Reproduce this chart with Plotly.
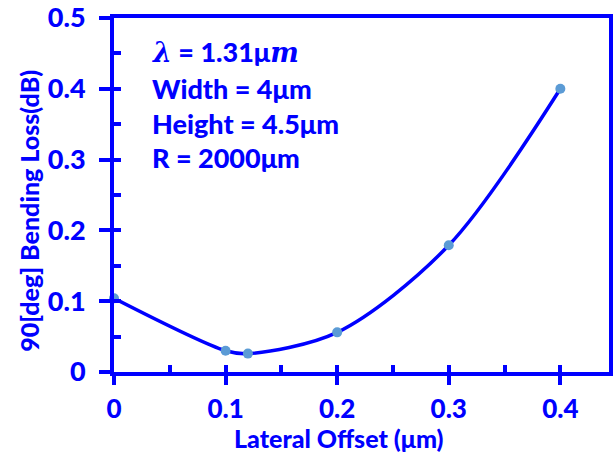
import plotly.graph_objects as go

offset_um = [0.0, 0.1, 0.12, 0.2, 0.3, 0.4]
loss_db = [0.104, 0.030, 0.026, 0.056, 0.179, 0.400]
x_ticks = [0, 0.1, 0.2, 0.3, 0.4]
x_tick_text = ["0", "0.1", "0.2", "0.3", "0.4"]
y_ticks = [0, 0.1, 0.2, 0.3, 0.4, 0.5]
y_tick_text = ["0", "0.1", "0.2", "0.3", "0.4", "0.5"]
info_lines = [
    "<span style='font-family:DejaVu Serif'><i>λ</i></span> = 1.31μ<span style='font-family:DejaVu Serif'><i>m</i></span>",
    "Width = 4μm",
    "Height = 4.5μm",
    "R = 2000μm",
]

BLUE = "#0000FF"
FONT = "Lato"
xr = [0, 0.4436]
yr = [0, 0.5]

fig = go.Figure()
fig.add_trace(go.Scatter(
    x=offset_um, y=loss_db, mode="lines+markers",
    line=dict(color=BLUE, width=3.5, shape="spline", smoothing=0.9),
    marker=dict(color="#5B9BD5", size=10),
    showlegend=False, cliponaxis=False,
))
# invisible trace for the minor/inside tick overlay axes
fig.add_trace(go.Scatter(x=[0], y=[0], xaxis="x2", yaxis="y2", mode="markers",
                         marker=dict(opacity=0), showlegend=False, hoverinfo="skip"))

fig.update_layout(
    width=613, height=452,
    margin=dict(l=114, r=0, t=18, b=80),
    plot_bgcolor="white", paper_bgcolor="white",
    xaxis=dict(range=xr, tickvals=x_ticks, ticktext=x_tick_text, ticks="outside",
               ticklen=9, tickwidth=4, tickcolor=BLUE, showline=True, linewidth=4,
               linecolor=BLUE, mirror=True, showgrid=False, zeroline=False,
               tickfont=dict(family=FONT, size=26, color=BLUE, weight=900),
               ticklabelstandoff=2),
    yaxis=dict(range=yr, tickvals=y_ticks, ticktext=y_tick_text, ticks="outside",
               ticklen=11, tickwidth=4, tickcolor=BLUE, showline=True, linewidth=4,
               linecolor=BLUE, mirror=True, showgrid=False, zeroline=False,
               tickfont=dict(family=FONT, size=27, color=BLUE, weight=900),
               ticklabelstandoff=8),
    xaxis2=dict(range=xr, overlaying="x", anchor="y", side="bottom", dtick=0.05, tick0=0,
                ticks="inside", ticklen=7, tickwidth=4, tickcolor=BLUE,
                showticklabels=False, showgrid=False, zeroline=False, showline=False),
    yaxis2=dict(range=yr, overlaying="y", anchor="x", side="left", dtick=0.05, tick0=0,
                ticks="inside", ticklen=7, tickwidth=4, tickcolor=BLUE,
                showticklabels=False, showgrid=False, zeroline=False, showline=False),
)

fig.add_annotation(text="Lateral Offset (μm)", xref="paper", yref="paper",
                   x=0.455, y=-0.186, showarrow=False, xanchor="center", yanchor="middle",
                   font=dict(family=FONT, size=25, color=BLUE, weight=900))
fig.add_annotation(text="90[deg] Bending Loss(dB)", xref="paper", yref="paper",
                   x=-0.172, y=0.455, textangle=-90, showarrow=False,
                   xanchor="center", yanchor="middle",
                   font=dict(family=FONT, size=25, color=BLUE, weight=900))

ys = [0.904, 0.802, 0.701, 0.605]
for txt, yy in zip(info_lines, ys):
    fig.add_annotation(text=txt, xref="paper", yref="paper", x=0.072, y=yy,
                       showarrow=False, xanchor="left", yanchor="middle",
                       font=dict(family=FONT, size=27, color=BLUE, weight=900))

fig.write_html("out.html")
